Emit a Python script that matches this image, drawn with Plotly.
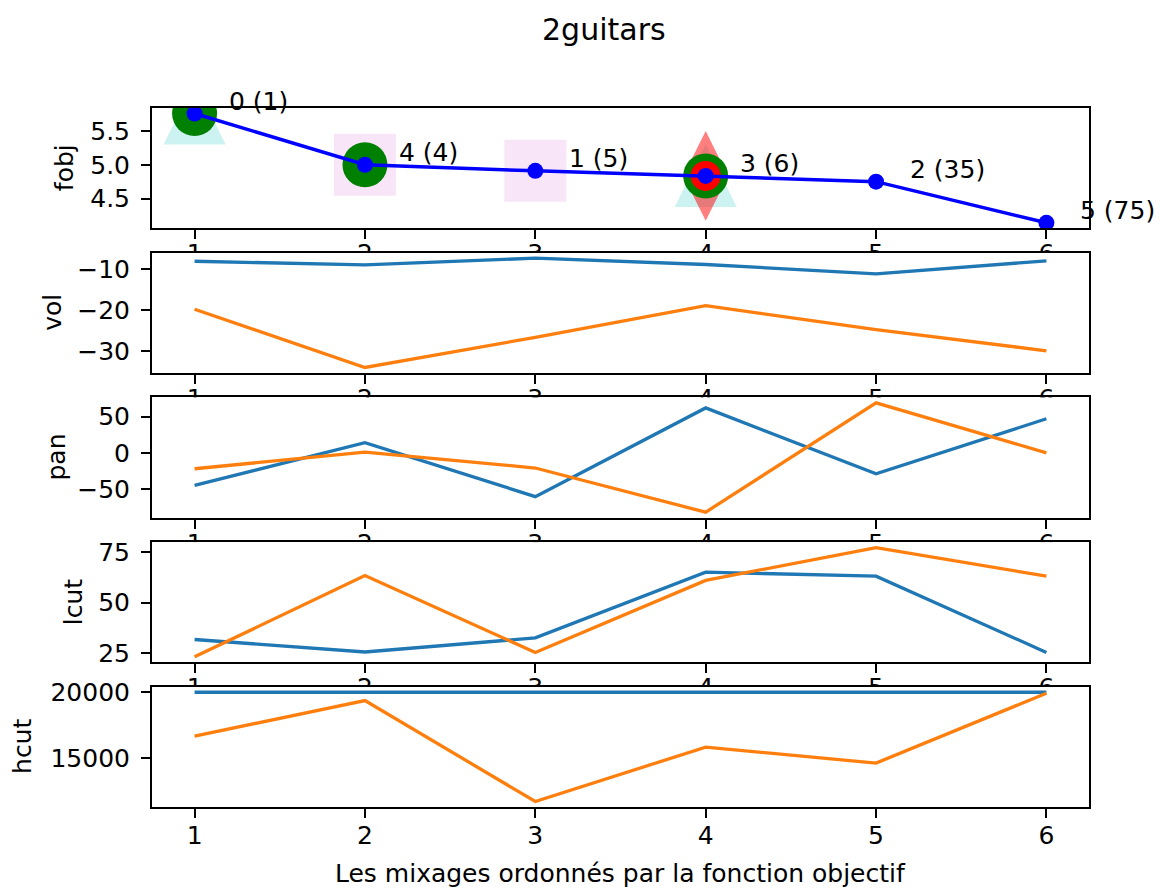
import plotly.graph_objects as go

# ---------------- data ----------------
x_vals = [1, 2, 3, 4, 5, 6]
x_ticktext = ["1", "2", "3", "4", "5", "6"]

fobj = [5.76, 5.00, 4.91, 4.835, 4.75, 4.14]
point_labels = ["0 (1)", "4 (4)", "1 (5)", "3 (6)", "2 (35)", "5 (75)"]
green_idx = [0, 1, 3]
triangle_idx = [0, 3]
square_idx = [1, 2]
diamond_idx = [3]
red_idx = [3]

vol_a = [-8.0, -8.9, -7.25, -8.8, -11.1, -7.9]
vol_b = [-19.8, -34.1, -26.7, -18.9, -24.8, -30.0]
pan_a = [-45, 14, -60.5, 62, -29, 47]
pan_b = [-22, 1, -21, -82, 69, 0]
lcut_a = [31.7, 25.5, 32.5, 65.1, 63.1, 25.3]
lcut_b = [23.1, 63.4, 25.3, 61.0, 77.3, 63.1]
hcut_a = [20000, 20000, 20000, 20000, 20000, 20000]
hcut_b = [16667, 19370, 11700, 15833, 14620, 19924]

fobj_ticks = [4.5, 5.0, 5.5]
fobj_ticktext = ["4.5", "5.0", "5.5"]
vol_ticks = [-30, -20, -10]
vol_ticktext = ["\u221230", "\u221220", "\u221210"]
pan_ticks = [-50, 0, 50]
pan_ticktext = ["\u221250", "0", "50"]
lcut_ticks = [25, 50, 75]
lcut_ticktext = ["25", "50", "75"]
hcut_ticks = [15000, 20000]
hcut_ticktext = ["15000", "20000"]

title = "2guitars"
xlabel = "Les mixages ordonnés par la fonction objectif"
ylabels = ["fobj", "vol", "pan", "lcut", "hcut"]

# ---------------- layout helpers ----------------
W, H = 1168, 891
FONT = "DejaVu Sans"
BLUE_T = "#1f77b4"
ORANGE_T = "#ff7f0e"
left_px, right_px = 152, 1089
panel_tops = [106.7, 251.1, 395.5, 539.9, 684.3]   # wanted on-screen positions
panel_h = 120


def lay(y_screen):
    # compensate the vertical scaling seen in the photographed page
    return y_screen * 907.0 / 891.0 - 8.0


def pyf(y_screen):
    return 1 - lay(y_screen) / H


def auto_range(*series):
    vals = [v for s in series for v in s]
    lo, hi = min(vals), max(vals)
    m = 0.05 * (hi - lo)
    return [lo - m, hi + m]


fig = go.Figure()

# dummy full-page subplot (makes each panel paint its own background)
fig.add_trace(go.Scatter(x=[0], y=[0], xaxis="x", yaxis="y", mode="markers",
                         marker=dict(opacity=0), hoverinfo="skip", showlegend=False))

# ---- fobj panel (x2/y2) ----
fig.add_trace(go.Scatter(
    x=[x_vals[i] for i in square_idx], y=[fobj[i] for i in square_idx],
    xaxis="x2", yaxis="y2", mode="markers",
    marker=dict(symbol="square", size=62, color="rgba(191,0,191,0.1)", line=dict(width=0)),
    hoverinfo="skip", showlegend=False))
fig.add_trace(go.Scatter(
    x=[x_vals[i] for i in diamond_idx], y=[fobj[i] for i in diamond_idx],
    xaxis="x2", yaxis="y2", mode="markers",
    marker=dict(symbol="diamond-tall", size=64, color="rgba(255,0,0,0.5)", line=dict(width=0)),
    hoverinfo="skip", showlegend=False))
fig.add_trace(go.Scatter(
    x=[x_vals[i] for i in green_idx], y=[fobj[i] for i in green_idx],
    xaxis="x2", yaxis="y2", mode="markers",
    marker=dict(symbol="circle", size=45, color="#008000", line=dict(width=0)),
    hoverinfo="skip", showlegend=False))
fig.add_trace(go.Scatter(
    x=[x_vals[i] for i in red_idx], y=[fobj[i] for i in red_idx],
    xaxis="x2", yaxis="y2", mode="markers",
    marker=dict(symbol="circle", size=30, color="#ff0000", line=dict(width=0)),
    hoverinfo="skip", showlegend=False))
fig.add_trace(go.Scatter(
    x=x_vals, y=fobj, xaxis="x2", yaxis="y2", mode="lines+markers",
    line=dict(color="#0000ff", width=3.5),
    marker=dict(symbol="circle", size=16, color="#0000ff", line=dict(width=0)),
    showlegend=False))

shapes = []
for i in triangle_idx:
    shapes.append(dict(
        type="path", xref="x2", yref="y2", xsizemode="pixel", ysizemode="pixel",
        xanchor=x_vals[i], yanchor=fobj[i],
        path="M-31,-31 L31,-31 L0,32 Z",
        fillcolor="rgba(0,191,191,0.2)", line=dict(width=0), layer="below"))

# ---- other panels ----
pairs = [(vol_a, vol_b), (pan_a, pan_b), (lcut_a, lcut_b), (hcut_a, hcut_b)]
for k, (a, b) in enumerate(pairs, start=3):
    fig.add_trace(go.Scatter(x=x_vals, y=a, xaxis=f"x{k}", yaxis=f"y{k}", mode="lines",
                             line=dict(color=BLUE_T, width=3.3), showlegend=False))
    fig.add_trace(go.Scatter(x=x_vals, y=b, xaxis=f"x{k}", yaxis=f"y{k}", mode="lines",
                             line=dict(color=ORANGE_T, width=3.3), showlegend=False))

y_ranges = [auto_range(fobj), auto_range(vol_a, vol_b), auto_range(pan_a, pan_b),
            auto_range(lcut_a, lcut_b), auto_range(hcut_a, hcut_b)]
y_ticks = [(fobj_ticks, fobj_ticktext), (vol_ticks, vol_ticktext), (pan_ticks, pan_ticktext),
           (lcut_ticks, lcut_ticktext), (hcut_ticks, hcut_ticktext)]

axis_style = dict(showline=True, mirror=True, linecolor="black", linewidth=2,
                  ticks="outside", ticklen=9, tickwidth=2, tickcolor="black",
                  showgrid=False, zeroline=False,
                  tickfont=dict(family=FONT, size=25, color="black"))

layout = dict(
    width=W, height=H, margin=dict(l=0, r=0, t=0, b=0),
    paper_bgcolor="white", plot_bgcolor="white", showlegend=False,
    xaxis=dict(domain=[0, 1], anchor="y", visible=False, range=[0, 1]),
    yaxis=dict(domain=[0, 1], anchor="x", visible=False, range=[0, 1]),
)

span = max(x_vals) - min(x_vals)
xr = [min(x_vals) - 0.05 * span, max(x_vals) + 0.05 * span]
for j in range(5):
    k = j + 2
    top = panel_tops[j]
    standoff = -4 if j == 4 else -7
    layout[f"xaxis{k}"] = dict(domain=[left_px / W, right_px / W], anchor=f"y{k}", range=xr,
                               tickvals=x_vals, ticktext=x_ticktext, ticklabelstandoff=standoff,
                               **axis_style)
    layout[f"yaxis{k}"] = dict(domain=[pyf(top + panel_h), pyf(top)], anchor=f"x{k}",
                               range=y_ranges[j], tickvals=y_ticks[j][0], ticktext=y_ticks[j][1],
                               ticklabelstandoff=6, **axis_style)

annotations = []
annotations.append(dict(text=title, xref="paper", yref="paper", x=604 / W, y=pyf(28),
                        xanchor="center", yanchor="middle", showarrow=False,
                        font=dict(family=FONT, size=30, color="black")))
annotations.append(dict(text=xlabel, xref="paper", yref="paper", x=(left_px + right_px) / 2 / W,
                        y=pyf(871), xanchor="center", yanchor="middle", showarrow=False,
                        font=dict(family=FONT, size=25, color="black")))
ylabel_x = [64, 53, 57, 73, 23]
for j, lab in enumerate(ylabels):
    annotations.append(dict(text=lab, xref="paper", yref="paper", x=ylabel_x[j] / W,
                            y=pyf(panel_tops[j] + panel_h / 2), xanchor="center", yanchor="middle",
                            textangle=-90, showarrow=False,
                            font=dict(family=FONT, size=25, color="black")))
for i, lab in enumerate(point_labels):
    annotations.append(dict(text=lab, xref="x2", yref="y2", x=x_vals[i], y=fobj[i],
                            xanchor="left", yanchor="middle", xshift=32, yshift=12,
                            showarrow=False, font=dict(family=FONT, size=25, color="black")))

layout["annotations"] = annotations
layout["shapes"] = shapes
fig.update_layout(**layout)

fig.write_html("out.html")
